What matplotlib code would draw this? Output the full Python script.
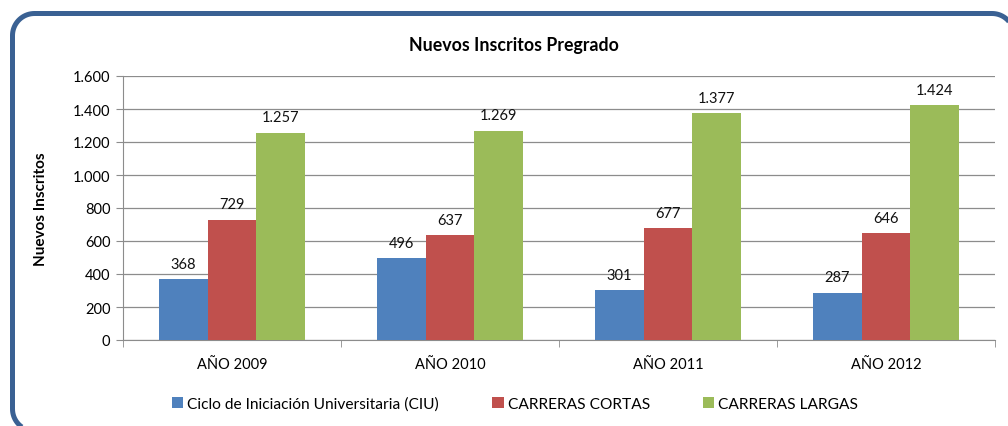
import numpy as np
import matplotlib.pyplot as plt
from matplotlib.path import Path
from matplotlib.patches import PathPatch
from matplotlib.ticker import MultipleLocator, FuncFormatter, FixedLocator

plt.rcParams['font.family'] = ['Lato', 'DejaVu Sans']

anios = ['AÑO 2009', 'AÑO 2010', 'AÑO 2011', 'AÑO 2012']
ciu = [368, 496, 301, 287]
cortas = [729, 637, 677, 646]
largas = [1257, 1269, 1377, 1424]
series = ['Ciclo de Iniciación Universitaria (CIU)', 'CARRERAS CORTAS', 'CARRERAS LARGAS']
colores = ['#4F81BD', '#C0504D', '#9BBB59']


def miles(v, pos=None):
    return '{:,.0f}'.format(v).replace(',', '.')


W, H = 1008, 427
fig = plt.figure(figsize=(W / 100, H / 100), dpi=100)

# marco redondeado (coordenadas en pixeles, y hacia arriba)
fondo = fig.add_axes([0, 0, 1, 1])
fondo.set_xlim(0, W)
fondo.set_ylim(0, H)
fondo.axis('off')
x0, x1, ytop, ybot, r = 12.5, 1014, H - 14.5, H - 432, 22
t1 = np.linspace(np.pi / 2, 0, 20)
t2 = np.linspace(np.pi, np.pi / 2, 20)
t3 = np.linspace(1.5 * np.pi, np.pi, 20)
pts = []
pts += [(x1 - r + r * np.cos(t), ytop - r + r * np.sin(t)) for t in t1[::-1]]
pts += [(x0 + r + r * np.cos(t), ytop - r + r * np.sin(t)) for t in t2[::-1]]
pts += [(x0 + r + r * np.cos(t), ybot + r + r * np.sin(t)) for t in t3[::-1]]
pts += [(x1, ybot)]
marco = PathPatch(Path(pts), fill=False, edgecolor='#3A6193', linewidth=3.6,
                  capstyle='butt', joinstyle='round')
fondo.add_patch(marco)

ax = fig.add_axes([123 / W, 1 - 341 / H, 872 / W, 264 / H])

x = np.arange(len(anios))
w = 1 / 4.5
for i, (vals, lab, col) in enumerate(zip([ciu, cortas, largas], series, colores)):
    barras = ax.bar(x + (i - 1) * w, vals, width=w, color=col, label=lab, zorder=3)
    for b, v in zip(barras, vals):
        ax.text(b.get_x() + b.get_width() / 2, v + 50, miles(v),
                ha='center', va='bottom', fontsize=10.5, color='#111111')

ax.set_xlim(-0.5, len(anios) - 0.5)
ax.set_ylim(0, 1600)
ax.yaxis.set_major_locator(MultipleLocator(200))
ax.yaxis.set_major_formatter(FuncFormatter(miles))
ax.yaxis.grid(True, color='#8C8C8C', linewidth=0.9, zorder=0)

ax.set_xticks(x)
ax.set_xticklabels(anios)
ax.xaxis.set_minor_locator(FixedLocator(np.arange(-0.5, len(anios), 1)))
ax.tick_params(axis='x', which='major', length=0, pad=12, labelsize=10.5)
ax.tick_params(axis='x', which='minor', length=5, color='#8C8C8C', direction='out')
ax.tick_params(axis='y', length=5, color='#8C8C8C', labelsize=10.5, pad=4)

for s in ['top', 'right']:
    ax.spines[s].set_visible(False)
ax.spines['left'].set_color('#8C8C8C')
ax.spines['bottom'].set_color('#8C8C8C')

ax.set_ylabel('Nuevos Inscritos', fontsize=11, fontweight='bold')
ax.yaxis.set_label_coords((48 - 123) / 872, 0.5)
fig.text(514 / W, 1 - 45 / H, 'Nuevos Inscritos Pregrado', ha='center', va='center',
         fontsize=12.8, fontweight='bold')

ax.legend(loc='center', bbox_to_anchor=((515 - 123) / 872, (341 - 405) / 264), ncol=3,
          frameon=False, fontsize=11.2, handlelength=0.75, handleheight=0.75,
          handletextpad=0.25, columnspacing=3.4)

fig.savefig('out.png', dpi=100)
